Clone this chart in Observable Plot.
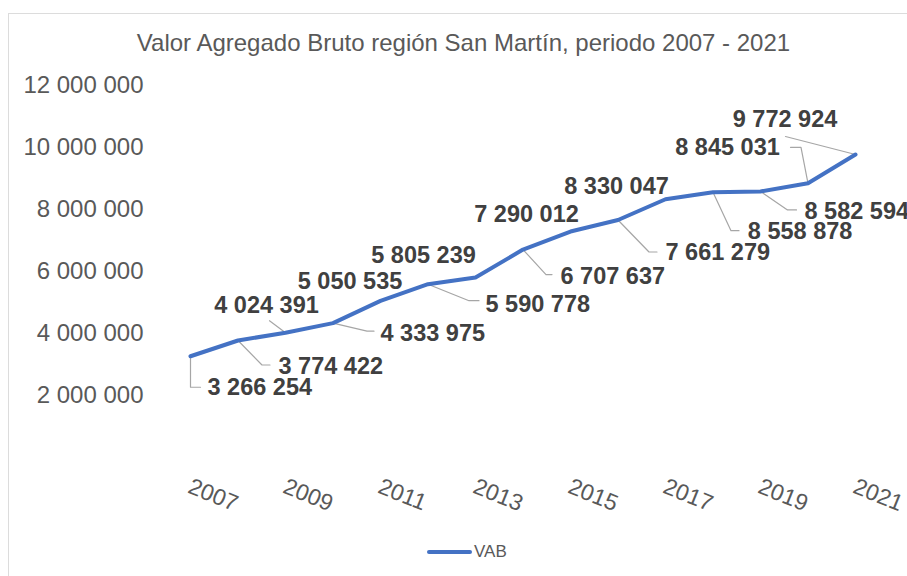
<!DOCTYPE html>
<html>
<head>
<meta charset="utf-8">
<script src="https://cdn.jsdelivr.net/npm/d3@7"></script>
<script src="https://cdn.jsdelivr.net/npm/@observablehq/plot@0.6"></script>
<style>
  html, body { margin: 0; padding: 0; background: #fff; overflow: hidden; }
  #wrap { position: relative; width: 907px; height: 576px; overflow: hidden; font-family: "Liberation Sans", Arial, sans-serif; }
  #frame { position: absolute; left: 8px; top: 13px; width: 1000px; height: 700px; border: 1.5px solid #dcdcdc; box-sizing: border-box; }
  #title { position: absolute; left: 0; width: 927px; top: 29px; text-align: center; font-size: 24px; color: #595959; white-space: nowrap; }
  #chart { position: absolute; left: 0; top: 0; }
  #legend { position: absolute; left: 427px; top: 540px; height: 24px; display: flex; align-items: center; font-size: 17px; color: #595959; }
  #legend .sw { width: 45px; height: 4px; border-radius: 2px; background: #4472C4; margin-right: 2px; }
</style>
</head>
<body>
<div id="wrap">
  <div id="frame"></div>
  <div id="chart"></div>
  <div id="title">Valor Agregado Bruto región San Martín, periodo 2007 - 2021</div>
  <div id="legend"><div class="sw"></div><span>VAB</span></div>
</div>
<script>
// ---- data ----
const years = [2007, 2008, 2009, 2010, 2011, 2012, 2013, 2014, 2015, 2016, 2017, 2018, 2019, 2020, 2021];
const vab = [3266254, 3774422, 4024391, 4333975, 5050535, 5590778, 5805239, 6707637, 7290012, 7661279, 8330047, 8558878, 8582594, 8845031, 9772924];
const xTickYears = [2007, 2009, 2011, 2013, 2015, 2017, 2019, 2021];
const yTickValues = [2000000, 4000000, 6000000, 8000000, 10000000, 12000000];

// ---- label layout (pixel offsets from each point) ----
const labelLayout = [
  {anchor: "start",  dx: 17,    dy: 31.5,  leader: [[0,0],[0,31],[10,31]]},
  {anchor: "start",  dx: 40.5,  dy: 26,    leader: [[0,0],[24,24.5],[32,24.5]]},
  {anchor: "middle", dx: -19,   dy: -27,   leader: [[0,0],[-16,-12]]},
  {anchor: "start",  dx: 47.5,  dy: 10,    leader: [[0,0],[34,8],[41,8]]},
  {anchor: "middle", dx: -30.5, dy: -19.5, leader: null},
  {anchor: "start",  dx: 57.5,  dy: 20.5,  leader: [[0,0],[41,16.5],[51,16.5]]},
  {anchor: "middle", dx: -52,   dy: -22,   leader: null},
  {anchor: "start",  dx: 37.5,  dy: 26.8,  leader: [[0,0],[23,25],[29,25]]},
  {anchor: "middle", dx: -44,   dy: -17,   leader: null},
  {anchor: "start",  dx: 47.5,  dy: 32.4,  leader: [[0,0],[31,32],[39,32]]},
  {anchor: "middle", dx: -49,   dy: -12.8, leader: null},
  {anchor: "start",  dx: 34.8,  dy: 39.5,  leader: [[0,0],[18,38.5],[26,38.5]]},
  {anchor: "start",  dx: 44,    dy: 20,    leader: [[0,0],[27,18.5],[36,18.5]]},
  {anchor: "end",    dx: -28.2, dy: -35.5, leader: [[0,0],[-7,-36],[-17.5,-36]]},
  {anchor: "middle", dx: -70.5, dy: -35,   leader: [[0,0],[-70,-18]]}
];

const W = 907, H = 576;
const mT = 85, mB = 119, mL = 190, mR = 52;
const xDomain = [2007, 2021], yDomain = [0, 12000000];
const pxPerYear = (W - mL - mR) / (xDomain[1] - xDomain[0]);
const pxPerUnit = (H - mT - mB) / (yDomain[1] - yDomain[0]);

const fmt = v => d3.format(",")(v).replace(/,/g, " ");
const data = years.map((year, i) => ({year, value: vab[i]}));

const labels = data.map((d, i) => ({
  ...d,
  lx: d.year + labelLayout[i].dx / pxPerYear,
  ly: d.value - labelLayout[i].dy / pxPerUnit,
  anchor: labelLayout[i].anchor,
  text: fmt(d.value)
}));

const leaders = [];
data.forEach((d, i) => {
  const L = labelLayout[i].leader;
  if (!L) return;
  L.forEach(([ox, oy], k) => leaders.push({id: i, k, x: d.year + ox / pxPerYear, y: d.value - oy / pxPerUnit}));
});

const labelMarks = ["start", "middle", "end"].map(a =>
  Plot.text(labels.filter(d => d.anchor === a), {
    x: "lx", y: "ly", text: "text", textAnchor: a,
    fontSize: 23.5, fontWeight: "bold", fill: "#404040", lineAnchor: "middle"
  })
);

const chart = Plot.plot({
  width: W, height: H,
  marginTop: mT, marginBottom: mB, marginLeft: mL, marginRight: mR,
  style: {fontFamily: "'Liberation Sans', Arial, sans-serif", background: "transparent", color: "#595959", overflow: "visible"},
  x: {domain: xDomain, axis: null},
  y: {domain: yDomain, axis: null},
  marks: [
    Plot.text(yTickValues, {y: d => d, text: d => fmt(d), frameAnchor: "left", textAnchor: "end", dx: -47, fontSize: 24, fill: "#595959", lineAnchor: "middle"}),
    Plot.text(xTickYears, {x: d => d, text: d => String(d), frameAnchor: "bottom", textAnchor: "start", dx: -1, dy: 28, rotate: 22, fontSize: 23, fill: "#595959", lineAnchor: "middle"}),
    Plot.line(leaders, {x: "x", y: "y", z: "id", stroke: "#a6a6a6", strokeWidth: 1.2}),
    Plot.line(data, {x: "year", y: "value", stroke: "#4472C4", strokeWidth: 4, strokeLinejoin: "round", strokeLinecap: "round"}),
    ...labelMarks
  ]
});
document.getElementById("chart").appendChild(chart);
</script>
</body>
</html>
